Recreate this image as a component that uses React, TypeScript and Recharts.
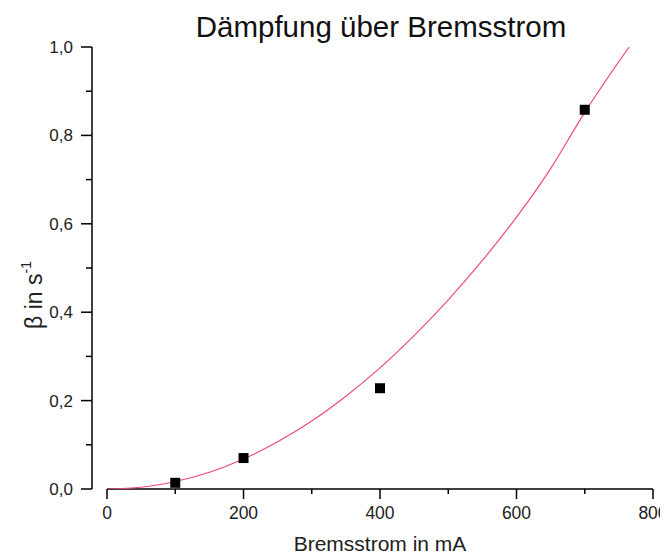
import { ComposedChart, Line, Scatter, XAxis, YAxis, ReferenceLine, Label } from 'recharts';

// measured damping vs brake current
const currentMA = [100, 200, 400, 700];
const betaMeasured = [0.014, 0.07, 0.228, 0.858];

// fit curve
const fitX = [0, 50, 100, 150, 200, 250, 300, 350, 400, 450, 500, 550, 600, 650, 700, 765];
const fitY = [0, 0.004, 0.017, 0.038, 0.068, 0.107, 0.154, 0.21, 0.274, 0.347, 0.428, 0.517, 0.615, 0.725, 0.852, 1.0];

const xTicks = [0, 100, 200, 300, 400, 500, 600, 700, 800];
const yTicks = [0, 0.1, 0.2, 0.3, 0.4, 0.5, 0.6, 0.7, 0.8, 0.9, 1.0];

const FONT = '"Liberation Sans", Arial, sans-serif';

const points = currentMA.map((x, i) => ({ x, y: betaMeasured[i] }));
const fit = fitX.map((x, i) => ({ x, fit: fitY[i] }));

function XTick({ x, y, payload }: any) {
  const major = payload.value % 200 === 0;
  return (
    <g>
      <line x1={x} x2={x} y1={y} y2={y + (major ? 10 : 5)} stroke="#000" strokeWidth={1.5} />
      {major && (
        <text x={x} y={y + 30} textAnchor="middle" fontSize={17.5} fontFamily={FONT} fill="#222">
          {payload.value}
        </text>
      )}
    </g>
  );
}

function YTick({ x, y, payload }: any) {
  const v = Math.round(payload.value * 10);
  const major = v % 2 === 0;
  return (
    <g>
      <line x1={x} x2={x - (major ? 11 : 6)} y1={y} y2={y} stroke="#000" strokeWidth={1.5} />
      {major && (
        <text x={x - 19} y={y} dy="0.35em" textAnchor="end" fontSize={17} fontFamily={FONT} fill="#222">
          {(v / 10).toFixed(1).replace('.', ',')}
        </text>
      )}
    </g>
  );
}

function SquareDot({ cx, cy }: any) {
  return <rect x={cx - 5} y={cy - 5} width={10} height={10} fill="#000" />;
}

function YLabel() {
  return (
    <text
      transform="translate(34, 287) rotate(-90)"
      textAnchor="middle"
      fontSize={23}
      fontFamily={FONT}
      fill="#222"
    >
      β in s
      <tspan fontSize={14} dy={-11}>-1</tspan>
    </text>
  );
}

export default function App() {
  return (
    <div style={{ position: 'relative', width: 660, height: 550 }}>
      <div
        style={{
          position: 'absolute',
          left: 0,
          top: 2,
          width: 746,
          textAlign: 'center',
          fontSize: 29.5,
          fontFamily: FONT,
          color: '#111',
          whiteSpace: 'nowrap',
        }}
      >
        Dämpfung über Bremsstrom
      </div>
      <ComposedChart width={660} height={550} margin={{ top: 39, right: 15, bottom: 39, left: 24 }}>
        <XAxis
          type="number"
          dataKey="x"
          domain={[-22, 800]}
          ticks={xTicks}
          axisLine={false}
          tickLine={false}
          tickSize={0}
          tickMargin={0}
          tick={<XTick />}
          height={30}
          allowDataOverflow
        >
          <Label
            content={() => (
              <text x={372} y={543} textAnchor="middle" fontSize={21} fontFamily={FONT} fill="#222">
                Bremsstrom in mA
              </text>
            )}
          />
        </XAxis>
        <YAxis
          type="number"
          domain={[0, 1]}
          ticks={yTicks}
          width={60}
          axisLine={{ stroke: '#000', strokeWidth: 1.5 }}
          tickLine={false}
          tickSize={0}
          tickMargin={0}
          tick={<YTick />}
          allowDataOverflow
        >
          <Label content={() => <YLabel />} />
        </YAxis>
        <ReferenceLine
          segment={[{ x: 0, y: 0 }, { x: 800, y: 0 }]}
          stroke="#000"
          strokeWidth={1.5}
          ifOverflow="visible"
        />
        <Line
          data={fit}
          dataKey="fit"
          type="monotone"
          stroke="#ee4a78"
          strokeWidth={1.2}
          dot={false}
          isAnimationActive={false}
        />
        <Scatter data={points} dataKey="y" shape={<SquareDot />} isAnimationActive={false} />
      </ComposedChart>
    </div>
  );
}
